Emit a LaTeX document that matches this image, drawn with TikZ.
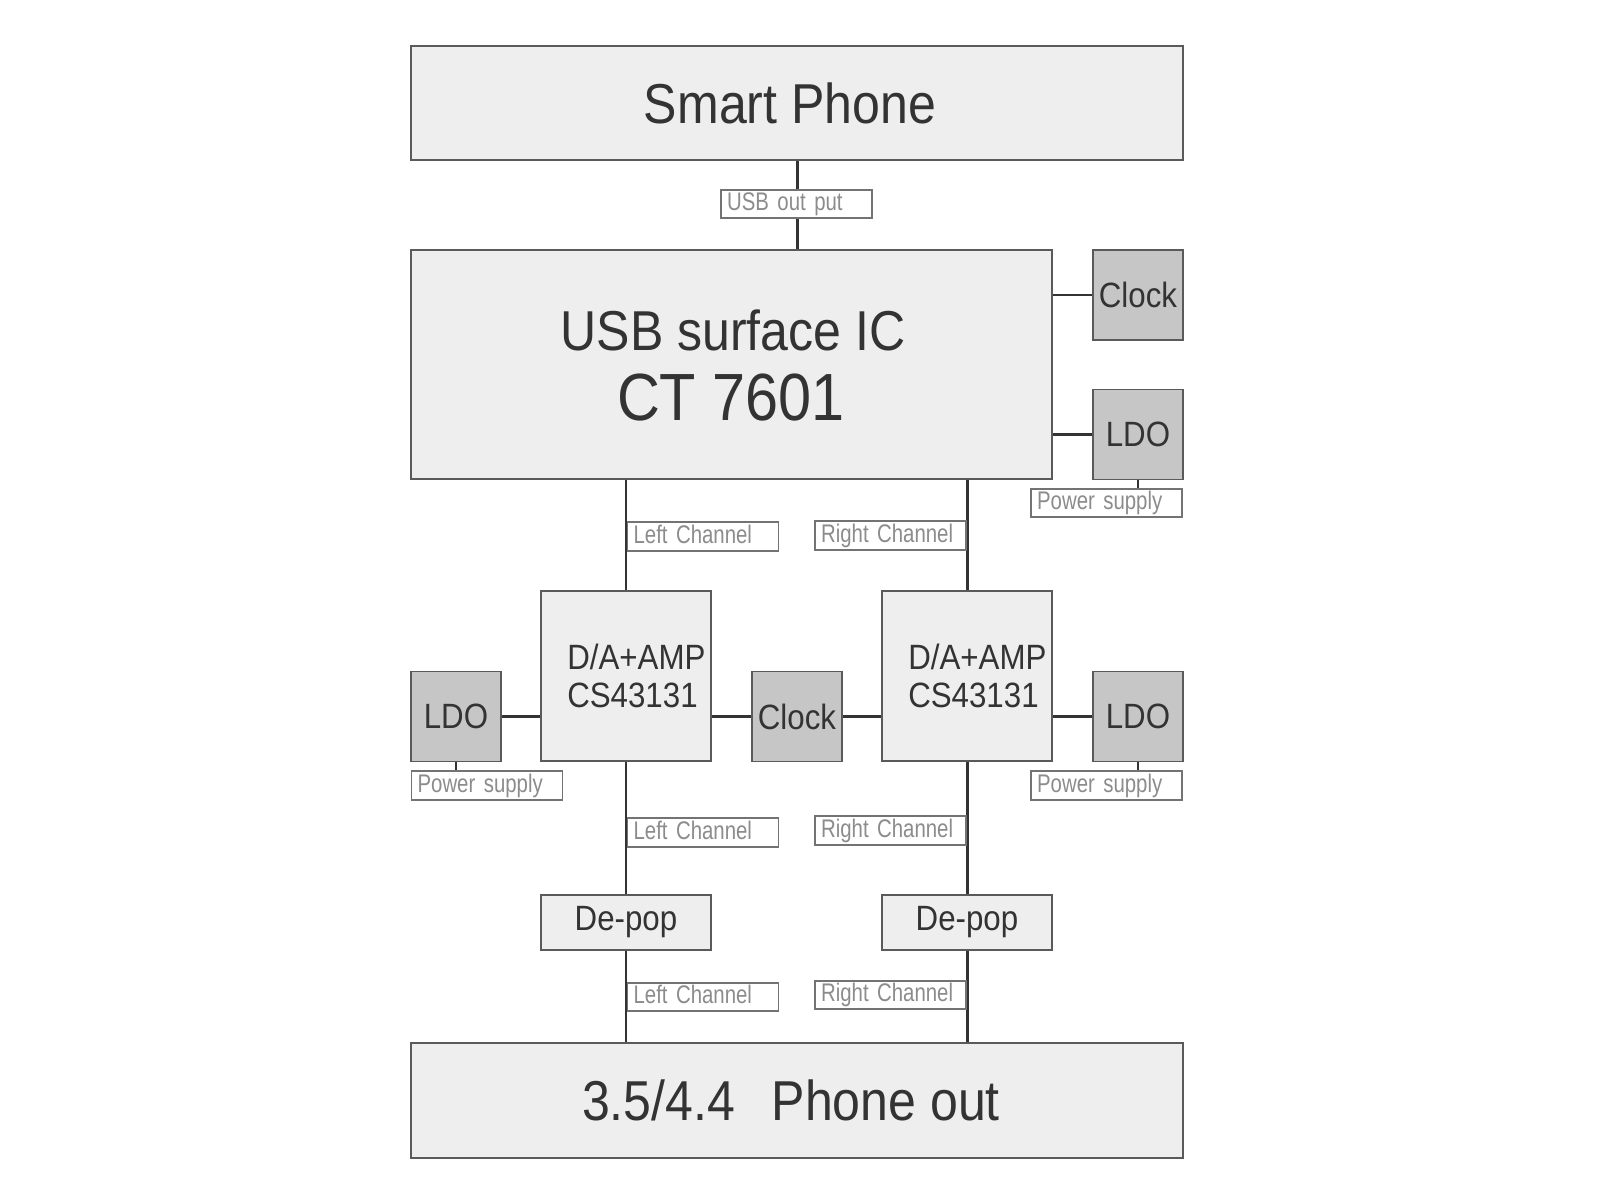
\documentclass[tikz,border=0pt]{standalone}
\usepackage{fontspec}
\setmainfont{Liberation Sans}[FakeStretch=0.89]
\newfontfamily\tagfont{Liberation Sans}[FakeStretch=0.8]
\usetikzlibrary{positioning}
\hyphenpenalty=10000
\definecolor{boxgray}{HTML}{EEEEEE}
\definecolor{dkgray}{HTML}{C6C6C6}
\definecolor{edge}{HTML}{5A5A5A}
\definecolor{ink}{HTML}{333333}
\definecolor{tagink}{HTML}{8C8C8C}
\tikzset{blk/.style={draw=edge, line width=1.1pt, fill=boxgray, text=ink, inner sep=0pt},
  dblk/.style={blk, fill=dkgray, minimum width=1.8cm, minimum height=1.8cm, font=\fontsize{20}{24}\selectfont},
  tag/.style={draw=edge!85, line width=0.9pt, fill=white, text=tagink, font=\tagfont\fontsize{14.5}{16}\selectfont,
    inner xsep=3.5pt, inner ysep=0pt, text width=79pt, align=left, minimum height=0.57cm, text height=10.4pt, text depth=3pt},
  wire/.style={draw=ink, line width=1.7pt}}

\begin{document}
\begin{tikzpicture}[x=0.02cm, y=-0.02cm]
  \useasboundingbox[fill=white] (0,0) rectangle (1600,1200);
  % main boxes
  \node[blk, minimum width=15.44cm, minimum height=2.28cm] (phone) at (797,103) {};
  \node[text=ink, font=\fontsize{32}{38}\selectfont] (phonet) at (790,103) {Smart Phone};
  \node[blk, minimum width=12.82cm, minimum height=4.58cm] (usbic) at (731.5,364.5) {};
  \node[text=ink, anchor=base, font=\fontsize{32}{38}\selectfont] (ictype) at (733,350) {USB surface IC};
  \node[text=ink, anchor=base, font=\fontsize{38}{44}\selectfont] (icname) at (731,420) {CT 7601};
  \node[blk, minimum width=15.44cm, minimum height=2.3cm] (out) at (797,1100.5) {};
  \node[text=ink, font=\fontsize{32}{38}\selectfont] (outt) at (791,1100.5) {3.5/4.4\hspace{0.65em}Phone out};
  % clock and ldo
  \node[dblk] (clktop) at (1138,295) {Clock};
  \node[dblk] (ldotop) at (1138,434.5) {LDO};
  \node[dblk] (ldol) at (456,716.5) {LDO};
  \node[dblk] (clkmid) at (797,716.5) {Clock};
  \node[dblk] (ldor) at (1138,716.5) {LDO};
  % converters
  \foreach \s/\x in {l/626, r/967} {
    \node[blk, minimum width=3.4cm, minimum height=3.4cm] (da\s) at (\x,676) {};
    \node[text=ink, anchor=west, align=left, font=\fontsize{20}{21.5}\selectfont] (dat\s) at ([xshift=0.42cm]da\s.west) {D/A+AMP\\CS43131};
    \node[blk, minimum width=3.4cm, minimum height=1.1cm, font=\fontsize{20}{24}\selectfont] (dep\s) at (\x,922.5) {De-pop};
  }
  % connectors
  \draw[wire] (phone.south) -- (phone.south |- usbic.north);
  \draw[wire] (clktop.west) -- (clktop.west -| usbic.east);
  \draw[wire] (ldotop.west) -- (ldotop.west -| usbic.east);
  \foreach \s in {l,r} {
    \draw[wire] (da\s.north) -- (da\s.north |- usbic.south);
    \draw[wire] (da\s.south) -- (dep\s.north);
    \draw[wire] (dep\s.south) -- (dep\s.south |- out.north);
  }
  \draw[wire] (ldol.east) -- (ldol.east -| dal.west);
  \draw[wire] (clkmid.west) -- (clkmid.west -| dal.east);
  \draw[wire] (clkmid.east) -- (clkmid.east -| dar.west);
  \draw[wire] (ldor.west) -- (ldor.west -| dar.east);
  % labels
  \node[tag] (usbout) at (796.5,204) {USB out put};
  \node[tag] (pstop) at (1106.5,503) {Power supply};
  \node[tag] (psl) at (487,785.5) {Power supply};
  \node[tag] (psr) at (1106.5,785.5) {Power supply};
  \draw[wire, line width=1.2pt] (ldotop.south) -- (ldotop.south |- pstop.north);
  \draw[wire, line width=1.2pt] (ldol.south) -- (ldol.south |- psl.north);
  \draw[wire, line width=1.2pt] (ldor.south) -- (ldor.south |- psr.north);
  \foreach \n/\y in {1/536.5, 2/832.5, 3/997} \node[tag] (lch\n) at (703,\y) {Left Channel};
  \foreach \n/\y in {1/535.5, 2/830.5, 3/995} \node[tag] (rch\n) at (890.5,\y) {Right Channel};
\end{tikzpicture}
\end{document}
